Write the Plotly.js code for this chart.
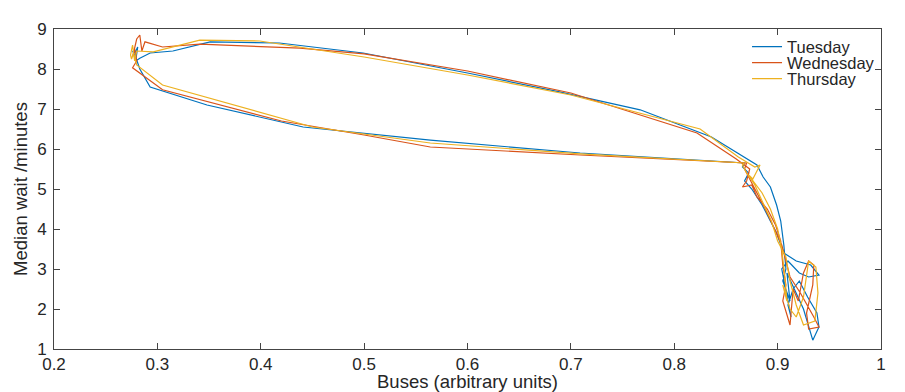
<!DOCTYPE html>
<html>
<head>
<meta charset="utf-8">
<script src="https://cdn.plot.ly/plotly-3.0.1.min.js"></script>
<style>html,body{margin:0;padding:0;background:#fff;}#chart{width:905px;height:392px;}</style>
</head>
<body>
<div id="chart"></div>
<script>
const seriesNames = ["Tuesday", "Wednesday", "Thursday"];
const seriesColors = ["#0072BD", "#D95319", "#EDB120"];

const tuesdayX = [0.278,0.281,0.279,0.283,0.293,0.315,0.351,0.418,0.499,0.600,0.689,0.767,0.836,0.870,0.880,0.886,0.893,0.899,0.903,0.906,0.908,0.905,0.912,0.909,0.918,0.925,0.934,0.940,0.938,0.929,0.921,0.915,0.910,0.913,0.907,0.904,0.910,0.921,0.930,0.940,0.932,0.918,0.906,0.899,0.893,0.885,0.875,0.868,0.872,0.866,0.868,0.709,0.564,0.441,0.348,0.293,0.283,0.279,0.276,0.278];
const tuesdayY = [8.40,8.55,8.20,8.27,8.40,8.45,8.68,8.65,8.40,7.90,7.43,6.98,6.30,5.75,5.60,5.30,5.05,4.60,4.20,3.60,3.00,2.70,2.20,2.90,2.40,2.00,1.22,1.55,1.90,2.30,2.70,2.50,2.10,1.80,2.60,3.00,3.20,2.90,2.80,2.85,3.10,3.20,3.40,3.90,4.20,4.60,5.00,5.20,5.40,5.55,5.65,5.90,6.22,6.55,7.10,7.55,8.00,8.30,8.45,8.40];

const wednesdayX = [0.276,0.280,0.283,0.285,0.288,0.305,0.341,0.438,0.500,0.600,0.700,0.822,0.860,0.873,0.870,0.866,0.875,0.880,0.890,0.898,0.903,0.905,0.908,0.905,0.912,0.915,0.920,0.925,0.930,0.935,0.934,0.928,0.930,0.940,0.935,0.922,0.912,0.908,0.904,0.897,0.888,0.878,0.872,0.868,0.870,0.709,0.564,0.500,0.420,0.305,0.276,0.280,0.278,0.276];
const wednesdayY = [8.30,8.75,8.85,8.45,8.68,8.55,8.62,8.52,8.38,7.95,7.40,6.40,5.75,5.50,5.20,5.05,5.10,4.80,4.50,4.10,3.70,3.10,2.60,2.20,1.60,2.50,2.20,2.90,3.20,3.10,2.60,1.90,1.50,1.55,1.80,2.40,2.80,3.20,3.60,4.00,4.50,5.00,5.30,5.50,5.65,5.85,6.05,6.35,6.70,7.48,8.03,8.20,8.50,8.30];

const thursdayX = [0.274,0.276,0.278,0.280,0.296,0.341,0.399,0.500,0.600,0.700,0.825,0.862,0.878,0.883,0.876,0.872,0.885,0.893,0.900,0.904,0.907,0.909,0.905,0.912,0.918,0.925,0.930,0.937,0.939,0.936,0.925,0.918,0.912,0.908,0.900,0.894,0.885,0.878,0.870,0.866,0.868,0.709,0.564,0.450,0.305,0.280,0.277,0.275,0.274];
const thursdayY = [8.35,8.60,8.20,8.45,8.43,8.72,8.70,8.30,7.85,7.35,6.50,5.80,5.55,5.60,5.25,5.35,4.90,4.50,4.00,3.50,2.80,2.20,2.60,2.00,1.80,2.30,3.20,3.05,2.40,1.70,1.60,2.10,2.70,3.30,3.70,4.20,4.70,5.10,5.40,5.60,5.65,5.88,6.15,6.55,7.60,8.10,8.40,8.25,8.35];

const xTickVals = [0.2,0.3,0.4,0.5,0.6,0.7,0.8,0.9,1];
const xTickText = ["0.2","0.3","0.4","0.5","0.6","0.7","0.8","0.9","1"];
const yTickVals = [1,2,3,4,5,6,7,8,9];

const xs = [tuesdayX, wednesdayX, thursdayX];
const ys = [tuesdayY, wednesdayY, thursdayY];
const legendIds = ["legend", "legend2", "legend3"];
const legendYs = [0.944, 0.894, 0.844];

const traces = seriesNames.map((name, i) => ({
  type: "scatter",
  mode: "lines",
  name: name,
  legend: legendIds[i],
  x: xs[i],
  y: ys[i],
  line: {color: seriesColors[i], width: 1.2}
}));

const FONT = "Liberation Sans, Arial, sans-serif";

const axisCommon = {
  showgrid: false,
  zeroline: false,
  showline: true,
  linecolor: "#444",
  linewidth: 1,
  mirror: "allticks",
  ticks: "inside",
  ticklen: 6,
  tickcolor: "#444",
  tickwidth: 1,
  tickfont: {family: FONT, size: 17, color: "#262626"}
};

const layout = {
  width: 905,
  height: 392,
  margin: {l: 54, r: 24, t: 29, b: 43},
  paper_bgcolor: "#fff",
  plot_bgcolor: "#fff",
  showlegend: true,
  xaxis: Object.assign({}, axisCommon, {
    range: [0.2, 1],
    tickmode: "array",
    tickvals: xTickVals,
    ticktext: xTickText,
    title: {text: "Buses (arbitrary units)", font: {family: FONT, size: 18.5, color: "#262626"}, standoff: 2}
  }),
  yaxis: Object.assign({}, axisCommon, {
    range: [1, 9],
    tickmode: "array",
    tickvals: yTickVals,
    ticktext: yTickVals.map(String),
    ticklabelstandoff: 3,
    title: {text: "Median wait /minutes", font: {family: FONT, size: 18.5, color: "#262626"}, standoff: 4}
  })
};

legendIds.forEach((id, i) => {
  layout[id] = {
    x: 0.838, y: legendYs[i], xanchor: "left", yanchor: "middle",
    bgcolor: "rgba(255,255,255,0)",
    borderwidth: 0,
    font: {family: FONT, size: 16.5, color: "#262626"}
  };
});

Plotly.newPlot("chart", traces, layout, {displayModeBar: false, staticPlot: true});
</script>
</body>
</html>
